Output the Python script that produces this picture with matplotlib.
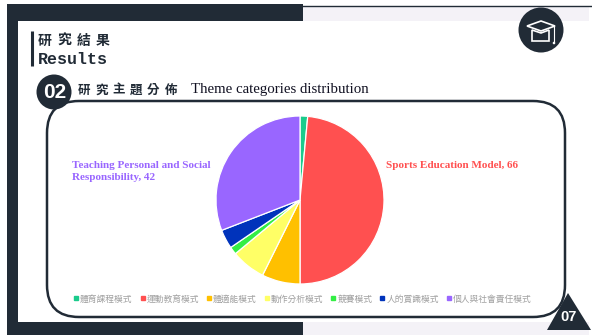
import matplotlib
matplotlib.use("Agg")
import matplotlib.pyplot as plt
from matplotlib.patches import Rectangle, FancyBboxPatch, Circle, Polygon
from matplotlib.lines import Line2D

# Theme category counts
categories = ["體育課程模式", "運動教育模式", "體適能模式", "動作分析模式",
              "競賽模式", "人的賞識模式", "個人與社會責任模式"]
counts = [2, 66, 10, 9, 2, 5, 42]
colors = ["#1ACB8C", "#FF5050", "#FFC000", "#FFFF66", "#33EE44", "#0033BB", "#9966FF"]

title_cn = "研究結果"
title_en = "Results"
section_no = "02"
section_cn = "研究主題分佈"
section_en = "Theme categories distribution"
page_no = "07"

NAVY = "#212B36"
CJK = ["Noto Sans CJK TC", "DejaVu Sans"]


def spaced(ax, x, y, chars, pitch, size):
    # one text per glyph so the heading can be tracked out evenly
    for i, ch in enumerate(chars):
        ax.text(x + i * pitch, y, ch, family=CJK, fontsize=size, fontweight="bold",
                color=NAVY, ha="left", va="center", zorder=4)


fig = plt.figure(figsize=(5.92, 3.36), dpi=100, facecolor="white")

# slide furniture is laid out in pixels
bg = fig.add_axes([0, 0, 1, 1])
bg.set_xlim(0, 592)
bg.set_ylim(336, 0)
bg.axis("off")

bg.add_patch(Rectangle((303, 6), 286, 15, fc="#F4F2F7", ec="none"))
bg.add_patch(Rectangle((303, 322), 286, 13, fc="#F4F2F7", ec="none"))
bg.add_patch(Rectangle((7, 4), 296, 17, fc=NAVY, ec="none"))
bg.add_patch(Rectangle((7, 4), 11, 331, fc=NAVY, ec="none"))
bg.add_patch(Rectangle((7, 322), 296, 13, fc=NAVY, ec="none"))
bg.plot([303, 592], [5.5, 5.5], color=NAVY, lw=1)

# heading
bg.plot([32, 32], [31, 66], color=NAVY, lw=2.2, solid_capstyle="butt")
spaced(bg, 38, 41, title_cn, 19.3, 10)
bg.text(38, 60, title_en, family="Liberation Mono", fontsize=12, fontweight="bold",
        color=NAVY, ha="left", va="center")

# rounded frame around the chart
bg.add_patch(FancyBboxPatch((47, 101), 518, 216, boxstyle="round,pad=0,rounding_size=32",
                            fc="white", ec=NAVY, lw=1.8))

# section marker
bg.add_patch(Circle((54, 92), 17.5, fc=NAVY, ec="none", zorder=3))
bg.text(54.5, 92, section_no, family="Liberation Sans", fontsize=15, fontweight="bold",
        color="white", ha="center", va="center", zorder=4)
spaced(bg, 78, 90, section_cn, 17.3, 9)
bg.text(191, 90, section_en, family="Liberation Serif", fontsize=10.7, color="#111122",
        ha="left", va="center", zorder=4)

# cap badge
bg.add_patch(Circle((541, 30), 22.5, fc=NAVY, ec="none"))
bg.add_patch(Polygon([[527, 26], [541, 21], [555, 26], [541, 31]], fc=NAVY, ec="white", lw=1.2))
bg.add_patch(Polygon([[532, 30], [532, 41], [549, 41], [549, 30], [541, 33]], fc=NAVY, ec="white", lw=1.2))
bg.plot([554, 554], [26, 41], color="white", lw=0.8)
bg.add_patch(Circle((554, 43), 1.3, fc="white", ec="none"))

# page number
bg.add_patch(Polygon([[547, 330], [568, 293], [591, 330]], fc=NAVY, ec="none"))
bg.text(569, 317, page_no, family="Liberation Sans", fontsize=10.5, fontweight="bold",
        color="white", ha="center", va="center")

# pie, clockwise from 12 o'clock
ax = fig.add_axes([216 / 592, 1 - 284 / 336, 168 / 592, 168 / 336])
wedges, _ = ax.pie(counts, colors=colors, startangle=90, counterclock=False, radius=1.0,
                   wedgeprops={"edgecolor": "white", "linewidth": 0.9})
ax.set_xlim(-1, 1)
ax.set_ylim(-1, 1)

bg.text(386, 165, f"Sports Education Model, {counts[1]}", family="Liberation Serif",
        fontsize=8, fontweight="bold", color=colors[1], ha="left", va="center")
bg.text(72, 171.5, f"Teaching Personal and Social\nResponsibility, {counts[6]}",
        family="Liberation Serif", fontsize=8, fontweight="bold", color=colors[6],
        ha="left", va="center", linespacing=1.35)

handles = [Line2D([], [], ls="none", marker="s", ms=3, color=c) for c in colors]
bg.legend(handles, categories, loc="center", bbox_to_anchor=(302, 299),
          bbox_transform=bg.transData, ncol=7, frameon=False, handletextpad=0.05,
          columnspacing=0.75, handlelength=0.8, labelcolor="#A0A0A0",
          prop={"family": CJK, "size": 6.3})

fig.savefig("out.png", dpi=100)
